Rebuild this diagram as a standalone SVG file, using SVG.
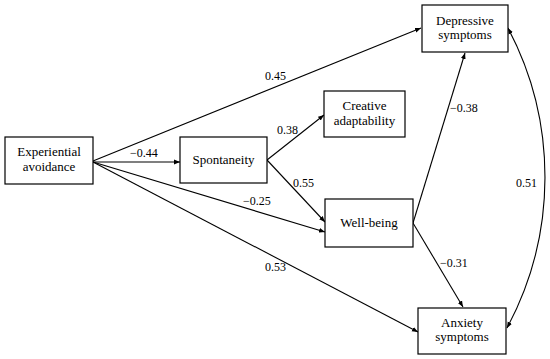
<svg xmlns="http://www.w3.org/2000/svg" width="550" height="359" viewBox="0 0 550 359">
<defs>
<marker id="ah" viewBox="0 0 10 10" refX="10" refY="5" markerWidth="6" markerHeight="6" markerUnits="userSpaceOnUse" orient="auto-start-reverse">
<path d="M0,1 L10,5 L0,9 Z" fill="#000"/>
</marker>
<style>
.box{fill:#fff;stroke:#000;stroke-width:1.2}
.t{font-size:13px;fill:#000;text-anchor:middle}
.n{font-size:12px;fill:#000}
.e{fill:none;stroke:#000;stroke-width:1.1;marker-end:url(#ah)}
</style>
</defs>
<rect width="550" height="359" fill="#fff"/>
<g font-family="'Liberation Serif', 'DejaVu Serif', serif">
<g id="connectors">
<path class="e" d="M93,161 L421,28"/>
<path class="e" d="M93,162 L180,162"/>
<path class="e" d="M93,162 L325,232"/>
<path class="e" d="M93,162 L418,332"/>
<path class="e" d="M267,160 L324,115"/>
<path class="e" d="M267,160 L325,222"/>
<path class="e" d="M413,223 L465,53"/>
<path class="e" d="M413,223 L463,307"/>
<path class="e" style="marker-start:url(#ah)" d="M508,28 A319,319 0 0 1 507,328"/>
<text class="n" x="265" y="80">0.45</text>
<text class="n" x="130" y="157">−0.44</text>
<text class="n" x="243" y="205">−0.25</text>
<text class="n" x="265" y="271">0.53</text>
<text class="n" x="277" y="134">0.38</text>
<text class="n" x="293" y="187">0.55</text>
<text class="n" x="450" y="112">−0.38</text>
<text class="n" x="440" y="267">−0.31</text>
<text class="n" x="516" y="187">0.51</text>
</g>
<g id="experiential-avoidance">
<rect class="box" x="5" y="137" width="88" height="47"/>
<text class="t" x="49" y="156">Experiential</text>
<text class="t" x="49" y="171">avoidance</text>
</g>
<g id="spontaneity">
<rect class="box" x="180" y="137" width="87" height="46"/>
<text class="t" x="223.5" y="164">Spontaneity</text>
</g>
<g id="depressive-symptoms">
<rect class="box" x="422" y="5" width="86" height="47"/>
<text class="t" x="465" y="25">Depressive</text>
<text class="t" x="465" y="39">symptoms</text>
</g>
<g id="creative-adaptability">
<rect class="box" x="324" y="91" width="81" height="46"/>
<text class="t" x="364.5" y="110">Creative</text>
<text class="t" x="364.5" y="125">adaptability</text>
</g>
<g id="well-being">
<rect class="box" x="325" y="199" width="88" height="48"/>
<text class="t" x="369" y="227">Well-being</text>
</g>
<g id="anxiety-symptoms">
<rect class="box" x="418" y="308" width="88" height="46"/>
<text class="t" x="462" y="327">Anxiety</text>
<text class="t" x="462" y="341">symptoms</text>
</g>
</g>
</svg>
